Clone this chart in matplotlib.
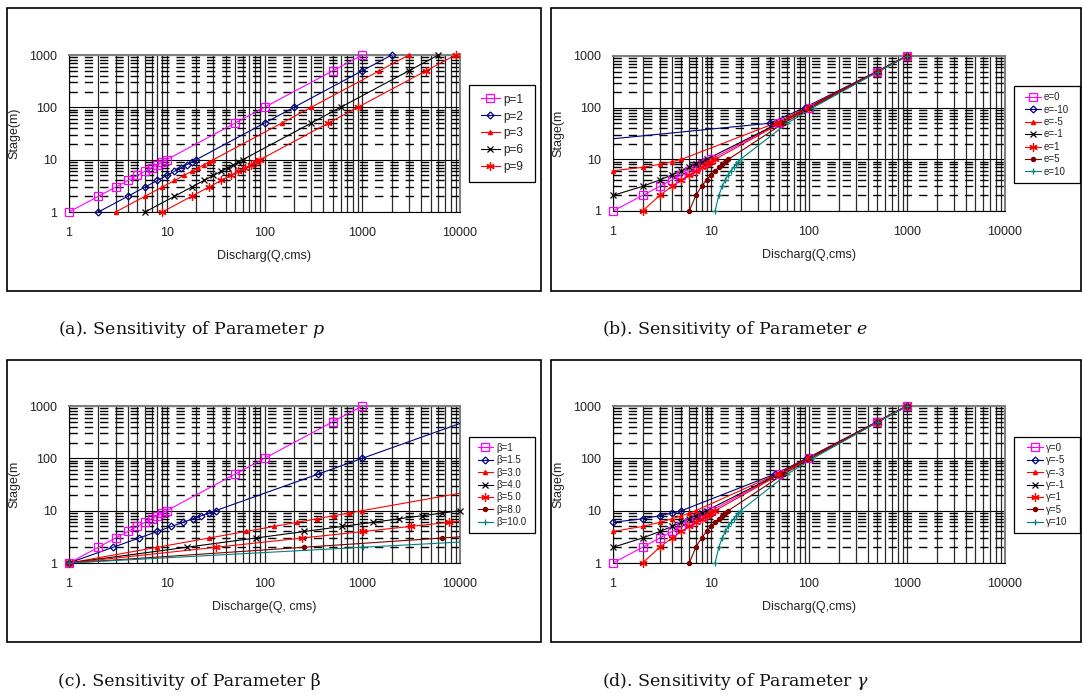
import matplotlib
matplotlib.use("Agg")
import matplotlib.pyplot as plt
from matplotlib.lines import Line2D
from matplotlib.patches import Rectangle
from matplotlib.ticker import LogLocator, NullFormatter, FuncFormatter
import numpy as np

plt.rcParams['font.family'] = ['Liberation Sans', 'DejaVu Sans']
plt.rcParams['mathtext.fontset'] = 'dejavuserif'
plt.rcParams['lines.scale_dashes'] = False

# ---- data (Q = discharge, H = stage) ----
stage = [1, 2, 3, 4, 5, 6, 7, 8, 9, 10, 50, 100, 500, 1000]

# (a) parameter p
p_labels = ["p=1", "p=2", "p=3", "p=6", "p=9"]
q_p1 = [1, 2, 3, 4, 5, 6, 7, 8, 9, 10, 50, 100, 500, 1000]
q_p2 = [2, 4, 6, 8, 10, 12, 14, 16, 18, 20, 100, 200, 1000, 2000]
q_p3 = [3, 6, 9, 12, 15, 18, 21, 24, 27, 30, 150, 300, 1500, 3000]
q_p6 = [6, 12, 18, 24, 30, 36, 42, 48, 54, 60, 300, 600, 3000, 6000]
q_p9 = [9, 18, 27, 36, 45, 54, 63, 72, 81, 90, 450, 900, 4500, 9000]

# (b) parameter e
e_labels = ["e=0", "e=-10", "e=-5", "e=-1", "e=1", "e=5", "e=10"]
q_e0 = [1, 2, 3, 4, 5, 6, 7, 8, 9, 10, 50, 100, 500, 1000]
h_e0 = [1, 2, 3, 4, 5, 6, 7, 8, 9, 10, 50, 100, 500, 1000]
q_em10 = [1, 40, 90, 490, 990]
h_em10 = [25, 50, 100, 500, 1000]
q_em5 = [1, 2, 3, 4, 5, 45, 95, 495, 995]
h_em5 = [6, 7, 8, 9, 10, 50, 100, 500, 1000]
q_em1 = [1, 2, 3, 4, 5, 6, 7, 8, 9, 49, 99, 499, 999]
h_em1 = [2, 3, 4, 5, 6, 7, 8, 9, 10, 50, 100, 500, 1000]
q_e1 = [2, 3, 4, 5, 6, 7, 8, 9, 10, 11, 51, 101, 501, 1001]
q_e5 = [6, 7, 8, 9, 10, 11, 12, 13, 14, 15, 55, 105, 505, 1005]
q_e10 = [11, 12, 13, 14, 15, 16, 17, 18, 19, 20, 60, 110, 510, 1010]

# (c) parameter beta
b_labels = ["β=1", "β=1.5", "β=3.0", "β=4.0", "β=5.0", "β=8.0", "β=10.0"]
q_b1 = [1, 2, 3, 4, 5, 6, 7, 8, 9, 10, 50, 100, 500, 1000]
h_b1 = [1, 2, 3, 4, 5, 6, 7, 8, 9, 10, 50, 100, 500, 1000]
q_b15 = [1, 2.83, 5.2, 8, 11.18, 14.7, 18.52, 22.63, 27, 31.62, 353.6, 1000, 11180]
h_b15 = [1, 2, 3, 4, 5, 6, 7, 8, 9, 10, 50, 100, 500]
q_b3 = [1, 8, 27, 64, 125, 216, 343, 512, 729, 1000, 125000]
h_b3 = [1, 2, 3, 4, 5, 6, 7, 8, 9, 10, 50]
q_b4 = [1, 16, 81, 256, 625, 1296, 2401, 4096, 6561, 10000]
h_b4 = [1, 2, 3, 4, 5, 6, 7, 8, 9, 10]
q_b5 = [1, 32, 243, 1024, 3125, 7776, 16807]
h_b5 = [1, 2, 3, 4, 5, 6, 7]
q_b8 = [1, 256, 6561, 65536]
h_b8 = [1, 2, 3, 4]
q_b10 = [1, 1024, 59049]
h_b10 = [1, 2, 3]

# (d) parameter gamma
g_labels = ["γ=0", "γ=-5", "γ=-3", "γ=-1", "γ=1", "γ=5", "γ=10"]
q_gm5 = [1, 2, 3, 4, 5, 45, 95, 495, 995]
h_gm5 = [6, 7, 8, 9, 10, 50, 100, 500, 1000]
q_gm3 = [1, 2, 3, 4, 5, 6, 7, 47, 97, 497, 997]
h_gm3 = [4, 5, 6, 7, 8, 9, 10, 50, 100, 500, 1000]

captions = ["(a). Sensitivity of Parameter $p$",
            "(b). Sensitivity of Parameter $e$",
            "(c). Sensitivity of Parameter β",
            "(d). Sensitivity of Parameter $\\gamma$"]

# ---- excel-like series styles ----
colors = ['#FF00FF', '#000080', '#FF0000', '#000000', '#FF0000', '#800000', '#008080']
markers = ['s', 'D', '^', 'x', (6, 2, 0), 'o', '+']
msizes = [5.5, 3.5, 3, 5, 6, 3, 4.5]
mfaces = ['none', 'none', '#FF0000', '#000000', '#FF0000', '#800000', '#008080']

W, H = 1083, 698
fig = plt.figure(figsize=(W / 100, H / 100), dpi=100)


def box(l, t, r, b, lw):
    fig.add_artist(Rectangle((l / W, 1 - b / H), (r - l) / W, (b - t) / H,
                             transform=fig.transFigure, fill=False,
                             ec='black', lw=lw))


def make_axes(l, t, r, b):
    ax = fig.add_axes([l / W, 1 - b / H, (r - l) / W, (b - t) / H])
    ax.set_xscale('log')
    ax.set_yscale('log')
    ax.set_xlim(1, 10000)
    ax.set_ylim(1, 1000)
    ax.xaxis.set_major_locator(LogLocator(base=10, numticks=10))
    ax.xaxis.set_minor_locator(LogLocator(base=10, subs=np.arange(2, 10), numticks=20))
    ax.yaxis.set_major_locator(LogLocator(base=10, numticks=10))
    ax.yaxis.set_minor_locator(LogLocator(base=10, subs=np.arange(2, 10), numticks=20))
    fmt = FuncFormatter(lambda v, pos: f"{v:g}")
    ax.xaxis.set_major_formatter(fmt)
    ax.yaxis.set_major_formatter(fmt)
    ax.xaxis.set_minor_formatter(NullFormatter())
    ax.yaxis.set_minor_formatter(NullFormatter())
    ax.set_axisbelow(True)
    ax.grid(True, which='both', axis='x', color='#2a2a2a', lw=0.9)
    ax.grid(True, which='major', axis='y', color='black', lw=0.8)
    ax.grid(True, which='minor', axis='y', color='black', lw=1.0, ls=(0, (6, 5)))
    ax.tick_params(which='both', length=0, labelsize=9, colors='#222222')
    ax.tick_params(axis='x', pad=11)
    ax.tick_params(axis='y', pad=8.5)
    for s in ['top', 'right']:
        ax.spines[s].set_color('#808080')
        ax.spines[s].set_linewidth(1.5)
    for s in ['left', 'bottom']:
        ax.spines[s].set_color('black')
        ax.spines[s].set_linewidth(0.8)
    return ax


def draw(ax, qs, hs, skip=None):
    skip = skip or {}
    for i, (q, h) in enumerate(zip(qs, hs)):
        q = np.array(q, dtype=float)
        h = np.array(h, dtype=float)
        ax.plot(q, h, color=colors[i], lw=0.8, zorder=3)
        inside = (q >= 1) & (q <= 10000) & (h >= 1) & (h <= 1000)
        inside[:skip.get(i, 0)] = False
        ax.plot(q[inside], h[inside], ls='none', marker=markers[i], ms=msizes[i],
                mfc=mfaces[i], mec=colors[i], mew=0.9, clip_on=False, zorder=4)


def legend(labels, l, t, r, b, fs, spacing):
    box(l, t, r, b, 0.9)
    handles = [Line2D([], [], color=colors[i], lw=0.8, marker=markers[i],
                      ms=msizes[i], mfc=mfaces[i], mec=colors[i], mew=0.9)
               for i in range(len(labels))]
    fig.legend(handles, labels, loc='center',
               bbox_to_anchor=((l + r) / 2 / W, 1 - (t + b) / 2 / H),
               frameon=False, fontsize=fs, handlelength=1.6, handletextpad=0.3,
               labelspacing=spacing, borderpad=0, labelcolor='#222222')


# outer frames of the four charts
box(7, 8, 541, 291, 1.2)
box(551, 8, 1081, 291, 1.2)
box(7, 360, 541, 642, 1.2)
box(551, 360, 1081, 642, 1.2)

# (a)
ax = make_axes(69, 55, 460, 212)
draw(ax, [q_p1, q_p2, q_p3, q_p6, q_p9], [stage] * 5)
ax.set_ylabel("Stage(m)", fontsize=9, labelpad=6, color='#222222')
ax.set_xlabel("Discharg(Q,cms)", fontsize=9, labelpad=8, color='#222222')
legend(p_labels, 469, 85, 535, 182, 8.5, 0.42)

# (b)
ax = make_axes(613, 56, 1005, 211)
draw(ax, [q_e0, q_em10, q_em5, q_em1, q_e1, q_e5, q_e10],
     [h_e0, h_em10, h_em5, h_em1, stage, stage, stage], skip={1: 1})
ax.set_ylabel("Stage(m", fontsize=9, labelpad=6, color='#222222')
ax.set_xlabel("Discharg(Q,cms)", fontsize=9, labelpad=8, color='#222222')
legend(e_labels, 1014, 86, 1080, 183, 7, 0.25)

# (c)
ax = make_axes(69, 406, 460, 563)
draw(ax, [q_b1, q_b15, q_b3, q_b4, q_b5, q_b8, q_b10],
     [h_b1, h_b15, h_b3, h_b4, h_b5, h_b8, h_b10])
ax.set_ylabel("Stage(m", fontsize=9, labelpad=6, color='#222222')
ax.set_xlabel("Discharge(Q, cms)", fontsize=9, labelpad=8, color='#222222')
legend(b_labels, 469, 437, 535, 533, 7, 0.25)

# (d)
ax = make_axes(613, 406, 1005, 563)
draw(ax, [q_e0, q_gm5, q_gm3, q_em1, q_e1, q_e5, q_e10],
     [h_e0, h_gm5, h_gm3, h_em1, stage, stage, stage])
ax.set_ylabel("Stage(m", fontsize=9, labelpad=6, color='#222222')
ax.set_xlabel("Discharg(Q,cms)", fontsize=9, labelpad=8, color='#222222')
legend(g_labels, 1014, 437, 1080, 533, 7, 0.25)

# captions under the charts
for (x, y), txt in zip([(58, 330), (602, 330), (58, 681), (602, 681)], captions):
    fig.text(x / W, 1 - y / H, txt, family='DejaVu Serif', fontsize=12.5,
             ha='left', va='center', color='#111111')

fig.savefig("out.png", dpi=100)
